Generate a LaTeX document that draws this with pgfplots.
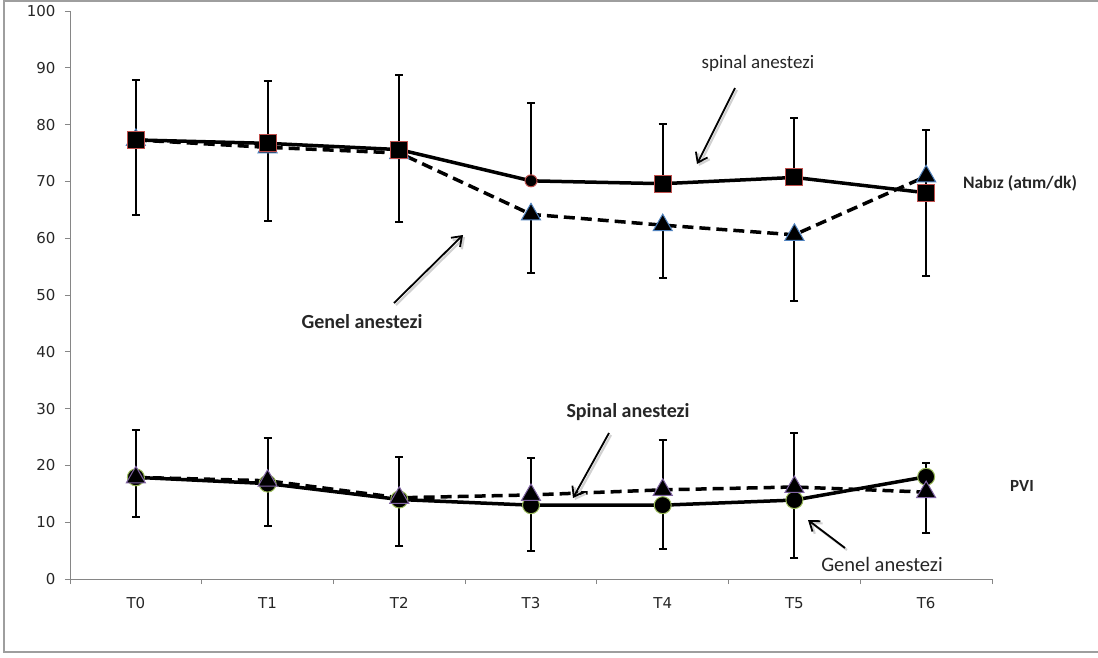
\documentclass[border=0pt]{standalone}
\usepackage{pgfplots}
\pgfplotsset{compat=1.18}
\usepackage{fontspec}
\setmainfont{Carlito}
\newfontfamily\dejavu{DejaVu Sans}
\usetikzlibrary{arrows.meta}
\definecolor{axgray}{HTML}{868686}
\definecolor{exred}{HTML}{C0504D}
\definecolor{exblue}{HTML}{4F81BD}
\definecolor{expurple}{HTML}{8064A2}
\definecolor{exgreen}{HTML}{9BBB59}
\begin{document}
\begin{tikzpicture}[x=1pt,y=1pt]
\useasboundingbox (0,0) rectangle (1098,-657);
% outer frame
\draw[axgray!80, line width=1.5pt] (1098,-1) -- (4,-1) -- (4,-652) -- (1098,-652);
\begin{axis}[
  at={(70pt,-579pt)}, anchor=south west,
  scale only axis, width=922pt, height=568pt,
  xmin=-0.5, xmax=6.5, ymin=0, ymax=100,
  axis lines=left, axis line style={axgray, line width=1pt, -},
  xtick={0,...,6}, xticklabels={T0,T1,T2,T3,T4,T5,T6},
  minor xtick={-0.5,0.5,...,6.5},
  ytick={0,10,...,100},
  tick align=outside, major tick length=5pt, minor tick length=5pt,
  x tick style={draw=none}, minor x tick style={draw=axgray, line width=1pt},
  y tick style={axgray, line width=1pt},
  tick label style={font=\dejavu\fontsize{15}{17}\selectfont, text=black!85},
  /pgf/number format/assume math mode=true,
  xticklabel style={yshift=-10pt},
  yticklabel style={xshift=-6pt},
  clip=false,
  error bars/error bar style={solid, black, line width=2pt},
  error bars/error mark options={rotate=90, solid, black, line width=2pt, mark size=4pt},
]
% Nabiz - genel anestezi (dashed, triangles)
\addplot[black, line width=3.5pt, dash pattern=on 11pt off 6pt,
  mark=triangle*, mark size=11pt, mark options={solid, fill=black, draw=exblue, line width=1pt},
  error bars/.cd, y dir=minus, y explicit]
coordinates {
(0,77.3) -= (0,13.2)
(1,76.0) -= (0,13.0)
(2,75.0) -= (0,12.1)
(3,64.2) -= (0,10.3)
(4,62.3) -= (0,9.3)
(5,60.6) -= (0,11.7)
(6,70.9) -= (0,17.6)
};
% Nabiz - spinal anestezi (solid, squares)
\addplot[black, line width=3.5pt,
  mark=square*, mark size=8.5pt, mark indices={1,2,3,5,6,7},
  mark options={solid, fill=black, draw=exred, line width=1pt},
  error bars/.cd, y dir=plus, y explicit]
coordinates {
(0,77.3) += (0,10.6)
(1,76.7) += (0,11.0)
(2,75.6) += (0,13.2)
(3,70.1) += (0,13.7)
(4,69.6) += (0,10.5)
(5,70.7) += (0,10.5)
(6,68.0) += (0,11.0)
};
\addplot[only marks, mark=*, mark size=6pt, mark options={fill=black, draw=exred, line width=1pt}]
coordinates {(3,70.1)};
% PVI - genel anestezi (solid, circles)
\addplot[black, line width=3.5pt,
  mark=*, mark size=8.5pt, mark options={solid, fill=black, draw=exgreen, line width=1pt},
  error bars/.cd, y dir=minus, y explicit]
coordinates {
(0,17.9) -= (0,7.0)
(1,16.8) -= (0,7.5)
(2,14.0) -= (0,8.2)
(3,13.0) -= (0,8.1)
(4,13.0) -= (0,7.7)
(5,13.9) -= (0,10.2)
(6,18.0) -= (0,9.9)
};
% PVI - spinal anestezi (dashed, triangles)
\addplot[black, line width=3.5pt, dash pattern=on 11pt off 6pt,
  mark=triangle*, mark size=11pt, mark options={solid, fill=black, draw=expurple, line width=1pt},
  error bars/.cd, y dir=plus, y explicit]
coordinates {
(0,17.9) += (0,8.3)
(1,17.3) += (0,7.5)
(2,14.3) += (0,7.2)
(3,14.8) += (0,6.5)
(4,15.7) += (0,8.8)
(5,16.2) += (0,9.5)
(6,15.3) += (0,5.1)
};
\end{axis}
% annotations
\tikzset{ann/.style={-{Straight Barb[length=9pt,width=13pt,line width=1.8pt]}, line width=1.8pt, black},
         annsh/.style={-{Straight Barb[length=9pt,width=13pt,line width=2.2pt]}, line width=2.2pt, black!18, shift={(2pt,-2pt)}}}
\node[font=\fontsize{19}{21}\selectfont, text=black!85] at (758,-63) {spinal anestezi};
\draw[annsh] (735,-88) -- (697,-164);
\draw[ann] (735,-88) -- (697,-164);
\node[font=\bfseries\fontsize{20}{22}\selectfont, text=black!85] at (362,-322) {Genel anestezi};
\draw[annsh] (394,-303) -- (463,-235);
\draw[ann] (394,-303) -- (463,-235);
\node[font=\bfseries\fontsize{17.5}{20}\selectfont, text=black!85] at (1020,-183) {Nabız (atım/dk)};
\node[font=\bfseries\fontsize{20}{22}\selectfont, text=black!85] at (628,-412) {Spinal anestezi};
\draw[annsh] (609,-433) -- (573,-498);
\draw[ann] (609,-433) -- (573,-498);
\node[font=\bfseries\fontsize{17}{20}\selectfont, text=black!85] at (1022,-486) {PVI};
\node[font=\fontsize{20.5}{22}\selectfont, text=black!85] at (882,-564) {Genel anestezi};
\draw[annsh] (845,-548) -- (808,-520);
\draw[ann] (845,-548) -- (808,-520);
\end{tikzpicture}
\end{document}
